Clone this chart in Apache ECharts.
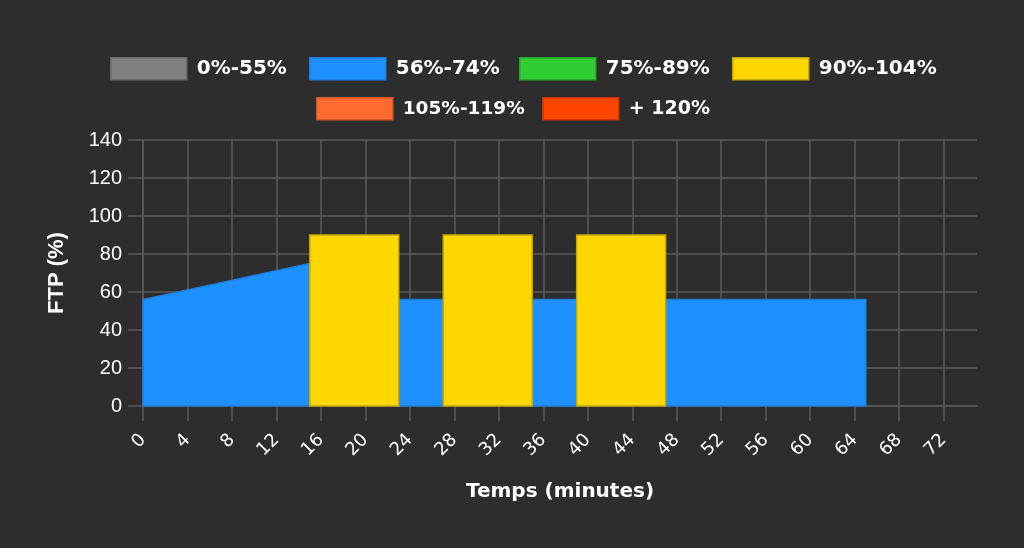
<!DOCTYPE html>
<html>
<head>
<meta charset="utf-8">
<script src="https://cdn.jsdelivr.net/npm/echarts@6/dist/echarts.min.js"></script>
<style>
html,body{margin:0;padding:0;background:#2d2d2d;}
#c{width:1024px;height:548px;}
</style>
</head>
<body>
<div id="c"></div>
<script>
// Workout segments (minutes, % FTP)
const segStart   = [0, 15, 23, 27, 35, 39, 47];
const segEnd     = [15, 23, 27, 35, 39, 47, 65];
const powerStart = [56, 90, 56, 90, 56, 90, 56];
const powerEnd   = [75, 90, 56, 90, 56, 90, 56];

// Zones
const zoneNames   = ['0%-55%', '56%-74%', '75%-89%', '90%-104%', '105%-119%', '+ 120%'];
const zoneMin     = [0, 56, 75, 90, 105, 120];
const zoneColors  = ['#808080', '#1e90ff', '#32cd32', '#ffd700', '#ff6a33', '#ff4500'];
const zoneBorders = ['#6b6b6b', '#1c7fdf', '#25a825', '#c9a800', '#d9562a', '#c93600'];

// Axis ticks
const xTicks = [0, 4, 8, 12, 16, 20, 24, 28, 32, 36, 40, 44, 48, 52, 56, 60, 64, 68, 72];
const yTicks = [0, 20, 40, 60, 80, 100, 120, 140];

function zoneOf(p) {
  let z = 0;
  for (let i = 0; i < zoneMin.length; i++) if (p >= zoneMin[i]) z = i;
  return z;
}

const gridColor = '#5a5a5a';

const series = zoneNames.map((name, zi) => {
  const data = [];
  for (let i = 0; i < segStart.length; i++) {
    if (zoneOf(powerStart[i]) === zi) data.push([segStart[i], segEnd[i], powerStart[i], powerEnd[i]]);
  }
  return {
    type: 'custom',
    name: name,
    data: data,
    itemStyle: { color: zoneColors[zi], borderColor: zoneBorders[zi], borderWidth: 1.5 },
    renderItem: function (params, api) {
      const x0 = api.value(0), x1 = api.value(1), p0 = api.value(2), p1 = api.value(3);
      const pts = [api.coord([x0, 0]), api.coord([x0, p0]), api.coord([x1, p1]), api.coord([x1, 0])];
      return {
        type: 'polygon',
        shape: { points: pts },
        style: { fill: zoneColors[zi], stroke: zoneBorders[zi], lineWidth: 1.5 }
      };
    },
    encode: { x: [0, 1], y: [2, 3] },
    z: 2 + zi
  };
});

// legend item placement and text size (layout only)
const legendPos = [[110, 57], [309, 57], [519, 57], [732, 57], [316, 97], [542, 97]];
const legendFont = [20, 20, 20, 20, 18.5, 19];

const legends = zoneNames.map((n, i) => ({
  data: [{ name: n, itemStyle: { color: zoneColors[i], borderColor: zoneBorders[i], borderWidth: 1.5 } }],
  left: legendPos[i][0], top: legendPos[i][1], padding: 0,
  icon: 'rect', itemWidth: 76, itemHeight: 22,
  textStyle: { color: '#ffffff', fontFamily: 'DejaVu Sans', fontWeight: 'bold', fontSize: legendFont[i], padding: [0, 0, 0, 5] },
  selectedMode: false
}));

const option = {
  backgroundColor: '#2d2d2d',
  animation: false,
  legend: legends,
  grid: { left: 143, right: 47, top: 140, bottom: 142, containLabel: false },
  xAxis: {
    type: 'value', min: 0, max: 75, interval: 4,
    name: 'Temps (minutes)', nameLocation: 'middle', nameGap: 76,
    nameTextStyle: { color: '#ffffff', fontFamily: 'DejaVu Sans', fontWeight: 'bold', fontSize: 20 },
    axisLine: { show: true, lineStyle: { color: gridColor, width: 1.5 } },
    axisTick: { show: true, length: 15, lineStyle: { color: gridColor, width: 1.5 }, customValues: xTicks },
    axisLabel: { color: '#ffffff', fontFamily: 'DejaVu Sans', fontSize: 18, rotate: 45, margin: 31, customValues: xTicks },
    splitLine: { show: true, lineStyle: { color: gridColor, width: 1.5 } }
  },
  yAxis: {
    type: 'value', min: 0, max: 140, interval: 20,
    name: 'FTP (%)', nameLocation: 'middle', nameGap: 75,
    nameTextStyle: { color: '#ffffff', fontFamily: 'Liberation Sans', fontWeight: 'bold', fontSize: 22 },
    axisLine: { show: true, lineStyle: { color: gridColor, width: 1.5 } },
    axisTick: { show: true, length: 15, lineStyle: { color: gridColor, width: 1.5 }, customValues: yTicks },
    axisLabel: { color: '#ffffff', fontFamily: 'Liberation Sans', fontSize: 20, margin: 21, customValues: yTicks },
    splitLine: { show: true, lineStyle: { color: gridColor, width: 1.5 } }
  },
  series: series
};

const chart = echarts.init(document.getElementById('c'), null, { renderer: 'canvas' });
chart.setOption(option);
</script>
</body>
</html>
